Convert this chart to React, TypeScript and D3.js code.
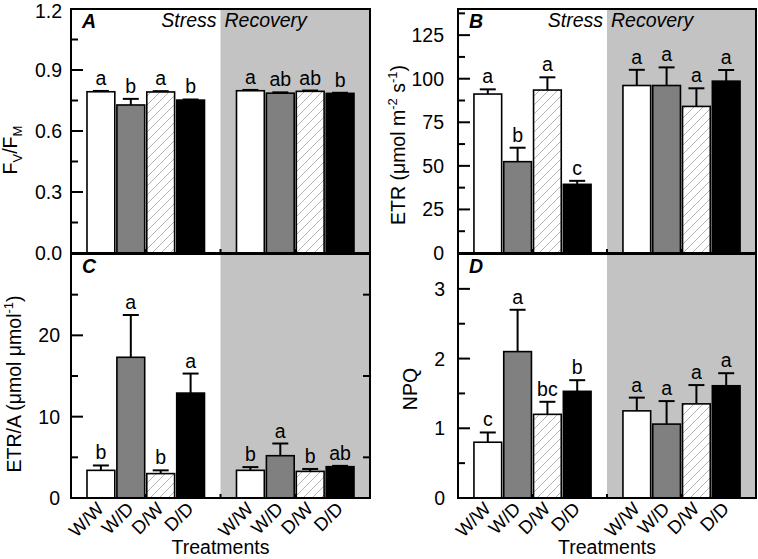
import React from "react";
import * as d3 from "d3";

const categories = ["W/W", "W/D", "D/W", "D/D"];

const fvfmStress = [0.793, 0.728, 0.792, 0.752];
const fvfmStressErr = [0.004, 0.03, 0.004, 0.003];
const fvfmRecovery = [0.798, 0.786, 0.795, 0.785];
const fvfmRecoveryErr = [0.004, 0.004, 0.004, 0.003];
const fvfmStressLetters = ["a", "b", "a", "b"];
const fvfmRecoveryLetters = ["a", "ab", "ab", "b"];

const etrStress = [91.2, 52.4, 93.5, 39.4];
const etrStressErr = [2.7, 8, 7.3, 2];
const etrRecovery = [96.1, 96.1, 84.1, 98.6];
const etrRecoveryErr = [9, 10.4, 10.4, 6.4];
const etrStressLetters = ["a", "b", "a", "c"];
const etrRecoveryLetters = ["a", "a", "a", "a"];

const etraStress = [3.4, 17.3, 3.0, 12.9];
const etraStressErr = [0.6, 5.2, 0.4, 2.4];
const etraRecovery = [3.4, 5.2, 3.27, 3.85];
const etraRecoveryErr = [0.4, 1.5, 0.3, 0.1];
const etraStressLetters = ["b", "a", "b", "a"];
const etraRecoveryLetters = ["b", "a", "b", "ab"];

const npqStress = [0.8, 2.1, 1.2, 1.53];
const npqStressErr = [0.14, 0.6, 0.18, 0.16];
const npqRecovery = [1.25, 1.06, 1.35, 1.61];
const npqRecoveryErr = [0.19, 0.33, 0.27, 0.18];
const npqStressLetters = ["c", "a", "bc", "b"];
const npqRecoveryLetters = ["a", "a", "a", "a"];

const fvfmTicks = [0, 0.3, 0.6, 0.9, 1.2];
const fvfmMinor = [0.15, 0.45, 0.75, 1.05];
const etrTicks = [0, 25, 50, 75, 100, 125];
const etrMinor = [12.5, 37.5, 62.5, 87.5, 112.5, 137.5];
const etraTicks = [0, 10, 20];
const etraMinor = [5, 15, 25];
const npqTicks = [0, 1, 2, 3];
const npqMinor = [0.5, 1.5, 2.5];

const FONT = "'Liberation Sans', Arial, Helvetica, sans-serif";
const FS = 19.5;
const FILLS = ["#ffffff", "#808080", "url(#hatch)", "#000000"];
const SHADE = "#c3c3c3";

type PanelProps = {
  left: number; right: number; top: number; bottom: number;
  domainMax: number; ticks: number[]; minor: number[]; fmt: (v: number) => string;
  stress: number[]; stressErr: number[]; recovery: number[]; recoveryErr: number[];
  stressLetters: string[]; recoveryLetters: string[];
  letter: string; showXLabels: boolean; labelGap: number; rightMinor?: boolean;
};

function Panel(p: PanelProps) {
  const x = d3.scaleLinear().domain([-1, 9]).range([p.left, p.right]);
  const y = d3.scaleLinear().domain([0, p.domainMax]).range([p.bottom, p.top]);
  const bw = x(0.93) - x(0);
  const values = [...p.stress, ...p.recovery];
  const errs = [...p.stressErr, ...p.recoveryErr];
  const letters = [...p.stressLetters, ...p.recoveryLetters];
  const positions = [0, 1, 2, 3, 5, 6, 7, 8];
  const shadeX = x(4);
  return (
    <g>
      <rect x={shadeX} y={p.top} width={p.right - shadeX} height={p.bottom - p.top} fill={SHADE} />
      {values.map((v, i) => {
        const cx = x(positions[i]);
        const top = y(v);
        const capY = y(v + errs[i]);
        return (
          <g key={i}>
            <line x1={cx} x2={cx} y1={top} y2={capY} stroke="#000" strokeWidth={2} />
            <line x1={cx - 8} x2={cx + 8} y1={capY} y2={capY} stroke="#000" strokeWidth={2} />
            <rect x={cx - bw / 2} y={top} width={bw} height={p.bottom - top}
              fill={FILLS[i % 4]} stroke="#000" strokeWidth={1.6} />
            <text x={cx} y={capY - 6} textAnchor="middle" fontSize={FS} fontFamily={FONT}>{letters[i]}</text>
          </g>
        );
      })}
      {p.ticks.map((t) => (
        <g key={"t" + t}>
          <line x1={p.left} x2={p.left + 12} y1={y(t)} y2={y(t)} stroke="#000" strokeWidth={2} />
          <text x={p.left - p.labelGap} y={y(t) + (y(t) - p.top < 4 ? 2 : 0)} dy="0.36em" textAnchor="end" fontSize={FS} fontFamily={FONT}>{p.fmt(t)}</text>
        </g>
      ))}
      {p.minor.map((t) => (
        <line key={"m" + t} x1={p.left} x2={p.left + 7} y1={y(t)} y2={y(t)} stroke="#000" strokeWidth={2} />
      ))}
      {p.rightMinor && p.minor.map((t) => (
        <line key={"rm" + t} x1={p.right} x2={p.right - 7} y1={y(t)} y2={y(t)} stroke="#000" strokeWidth={2} />
      ))}
      {[1.5, 4, 6.5].map((t) => (
        <line key={"xt" + t} x1={x(t)} x2={x(t)} y1={p.bottom} y2={p.bottom - 4} stroke="#000" strokeWidth={2} />
      ))}
      <rect x={p.left} y={p.top} width={p.right - p.left} height={p.bottom - p.top} fill="none" stroke="#000" strokeWidth={2} />
      <text x={p.left + 11} y={p.top + 19} fontSize={FS} fontWeight="bold" fontStyle="italic" fontFamily={FONT}>{p.letter}</text>
      {p.showXLabels && positions.map((pos, i) => (
        <text key={"xl" + i} transform={`translate(${x(pos) + 4},${p.bottom + 12}) rotate(-45)`}
          textAnchor="end" fontSize={18.5} fontFamily={FONT}>{categories[i % 4]}</text>
      ))}
      {p.showXLabels && (
        <text x={(p.left + p.right) / 2} y={p.bottom + 56} textAnchor="middle" fontSize={FS} fontFamily={FONT}>Treatments</text>
      )}
      {!p.showXLabels && (
        <g>
          <text x={shadeX - 4} y={p.top + 18} textAnchor="end" fontSize={FS} fontStyle="italic" fontFamily={FONT}>Stress</text>
          <text x={shadeX + 4} y={p.top + 18} textAnchor="start" fontSize={FS} fontStyle="italic" fontFamily={FONT}>Recovery</text>
        </g>
      )}
    </g>
  );
}

export default function App() {
  const f1 = d3.format(".1f");
  const f0 = d3.format("d");
  return (
    <svg width={758} height={559} style={{ position: "absolute", left: 0, top: 0, background: "#fff" }}>
      <defs>
        <pattern id="hatch" patternUnits="userSpaceOnUse" width={9} height={9}>
          <rect width={9} height={9} fill="#fff" />
          <path d="M-1,10 L10,-1 M-1,1 L1,-1 M8,10 L10,8" stroke="#a0a0a0" strokeWidth={0.8} />
        </pattern>
      </defs>
      <Panel left={71} right={370} top={9} bottom={253} domainMax={1.2} ticks={fvfmTicks} minor={fvfmMinor} fmt={f1}
        stress={fvfmStress} stressErr={fvfmStressErr} recovery={fvfmRecovery} recoveryErr={fvfmRecoveryErr}
        stressLetters={fvfmStressLetters} recoveryLetters={fvfmRecoveryLetters} letter="A" showXLabels={false} labelGap={9} />
      <Panel left={458} right={756} top={9} bottom={253} domainMax={140} ticks={etrTicks} minor={etrMinor} fmt={f0}
        stress={etrStress} stressErr={etrStressErr} recovery={etrRecovery} recoveryErr={etrRecoveryErr}
        stressLetters={etrStressLetters} recoveryLetters={etrRecoveryLetters} letter="B" showXLabels={false} labelGap={14} />
      <Panel left={71} right={370} top={254} bottom={498} domainMax={30} ticks={etraTicks} minor={etraMinor} fmt={f0}
        stress={etraStress} stressErr={etraStressErr} recovery={etraRecovery} recoveryErr={etraRecoveryErr}
        stressLetters={etraStressLetters} recoveryLetters={etraRecoveryLetters} letter="C" showXLabels={true} labelGap={11} rightMinor={true} />
      <Panel left={458} right={756} top={254} bottom={498} domainMax={3.5} ticks={npqTicks} minor={npqMinor} fmt={f0}
        stress={npqStress} stressErr={npqStressErr} recovery={npqRecovery} recoveryErr={npqRecoveryErr}
        stressLetters={npqStressLetters} recoveryLetters={npqRecoveryLetters} letter="D" showXLabels={true} labelGap={13} />
      <text transform="translate(17,150) rotate(-90)" textAnchor="middle" fontSize={FS} fontFamily={FONT}>
        F<tspan fontSize={13} dy={5}>V</tspan><tspan dy={-5}>/F</tspan><tspan fontSize={13} dy={5}>M</tspan>
      </text>
      <text transform="translate(405,145) rotate(-90)" textAnchor="middle" fontSize={FS} fontFamily={FONT}>
        ETR (μmol m<tspan fontSize={13} dy={-8}>-2</tspan><tspan dy={8}> s</tspan><tspan fontSize={13} dy={-8}>-1</tspan><tspan dy={8}>)</tspan>
      </text>
      <text transform="translate(21,384) rotate(-90)" textAnchor="middle" fontSize={FS} fontFamily={FONT}>
        ETR/A (μmol μmol<tspan fontSize={13} dy={-8}>-1</tspan><tspan dy={8}>)</tspan>
      </text>
      <text transform="translate(417,389) rotate(-90)" textAnchor="middle" fontSize={FS} fontFamily={FONT}>NPQ</text>
    </svg>
  );
}
